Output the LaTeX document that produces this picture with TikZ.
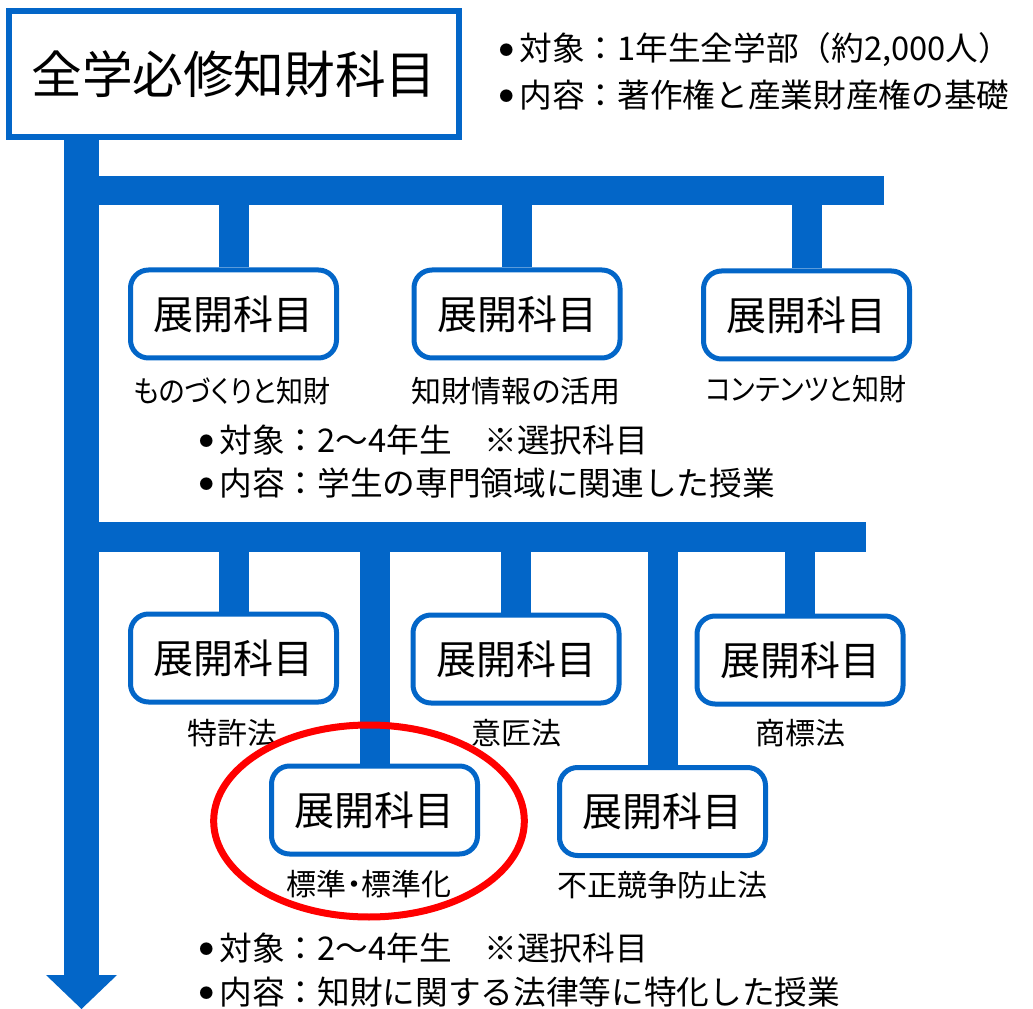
\documentclass[tikz,border=0pt]{standalone}
\usepackage{fontspec}
\setmainfont{Noto Sans CJK JP}
\newfontfamily\pfont[RawFeature=+palt]{Noto Sans CJK JP}
\usetikzlibrary{backgrounds,shapes.geometric}
\definecolor{myblue}{RGB}{3,102,200}
\definecolor{myred}{RGB}{255,0,0}
\newcommand\mybul{\makebox[0.62em][l]{\raisebox{4.2pt}{\fontsize{10.5}{10.5}\selectfont ●}}}
\tikzset{
  mainbox/.style={draw=myblue, line width=4.5pt, fill=white, minimum width=337.5pt, minimum height=94.5pt, inner sep=0pt, font=\fontsize{38}{40}\selectfont},
  subbox/.style={draw=myblue, line width=3.75pt, rounded corners=13.5pt, fill=white, minimum width=154.5pt, minimum height=66pt, inner sep=0pt, font=\fontsize{30}{32}\selectfont},
  lbl/.style={inner sep=0pt, font=\pfont\fontsize{22.5}{24}\selectfont},
  info/.style={anchor=west, inner sep=0pt, font=\fontsize{24.5}{26}\selectfont},
  barline/.style={draw=myblue, line width=22pt},
  stubline/.style={draw=myblue, line width=22.5pt},
  trunkline/.style={draw=myblue, line width=26.25pt},
}
\begin{document}
\begin{tikzpicture}[x=0.75pt,y=-0.75pt]
\useasboundingbox (0,0) rectangle (1033,1009);

% main box and info
\node[mainbox] (top) at (234,74) {全学必修知財科目};
\node[info] (i1) at (499,50) {\mybul 対象：1年生全学部（約2,000人）};
\node[info] (i2) at (499,95) {\mybul 内容：著作権と産業財産権の基礎};

% row 1
\node[subbox] (a1) at (233.5,314) {展開科目};
\node[subbox] (a2) at (517,314) {展開科目};
\node[subbox] (a3) at (806.5,315) {展開科目};
\node[lbl] (la1) at (232,391) {\scalebox{0.9}[1]{ものづくりと知財}};
\node[lbl] (la2) at (516,391) {知財情報の活用};
\node[lbl] (la3) at (806,389) {\scalebox{0.9}[1]{コンテンツと知財}};
\node[info] (m1) at (199,440) {\mybul 対象：2～4年生　※選択科目};
\node[info] (m2) at (199,483) {\mybul 内容：学生の専門領域に関連した授業};

% row 2
\node[subbox] (b1) at (233.5,658) {展開科目};
\node[subbox] (b2) at (516,659) {展開科目};
\node[subbox] (b3) at (800,660) {展開科目};
\node[lbl] (lb1) at (232,733) {特許法};
\node[lbl] (lb2) at (516,733) {意匠法};
\node[lbl] (lb3) at (800,733) {商標法};

% row 3
\node[subbox] (c1) at (374.5,810) {展開科目};
\node[subbox] (c2) at (662.5,811.5) {展開科目};
\node[lbl] (lc1) at (369,884) {標準・標準化};
\node[lbl] (lc2) at (662,885) {不正競争防止法};

\node[info] (e1) at (199,948) {\mybul 対象：2～4年生　※選択科目};
\node[info] (e2) at (199,992) {\mybul 内容：知財に関する法律等に特化した授業};

% highlight ellipse
\node[ellipse, draw=myred, line width=5.25pt, minimum width=233pt, minimum height=144pt, inner sep=0pt] (hl) at (369,821) {};

% coordinates
\coordinate (t0) at (81.5,137);
\coordinate (t1) at (81.5,976);
\coordinate (tip) at (81.5,1009);
\coordinate (bl) at (46,975);
\coordinate (br) at (117,975);
\coordinate (h1s) at (64,190.5);
\coordinate (h1e) at (884,190.5);
\coordinate (h2s) at (64,537);
\coordinate (h2e) at (866,537);

\begin{scope}[on background layer]
  \draw[trunkline] (t0) -- (t1);
  \fill[myblue] (bl) -- (br) -- (tip) -- cycle;
  \draw[barline] (h1s) -- (h1e);
  \draw[barline] (h2s) -- (h2e);
  \foreach \n in {a1,a2,a3}{\draw[stubline] (\n.north |- h1s) -- (\n.north);}
  \foreach \n in {b1,b2,b3,c1,c2}{\draw[stubline] (\n.north |- h2s) -- (\n.north);}
\end{scope}
\end{tikzpicture}
\end{document}
